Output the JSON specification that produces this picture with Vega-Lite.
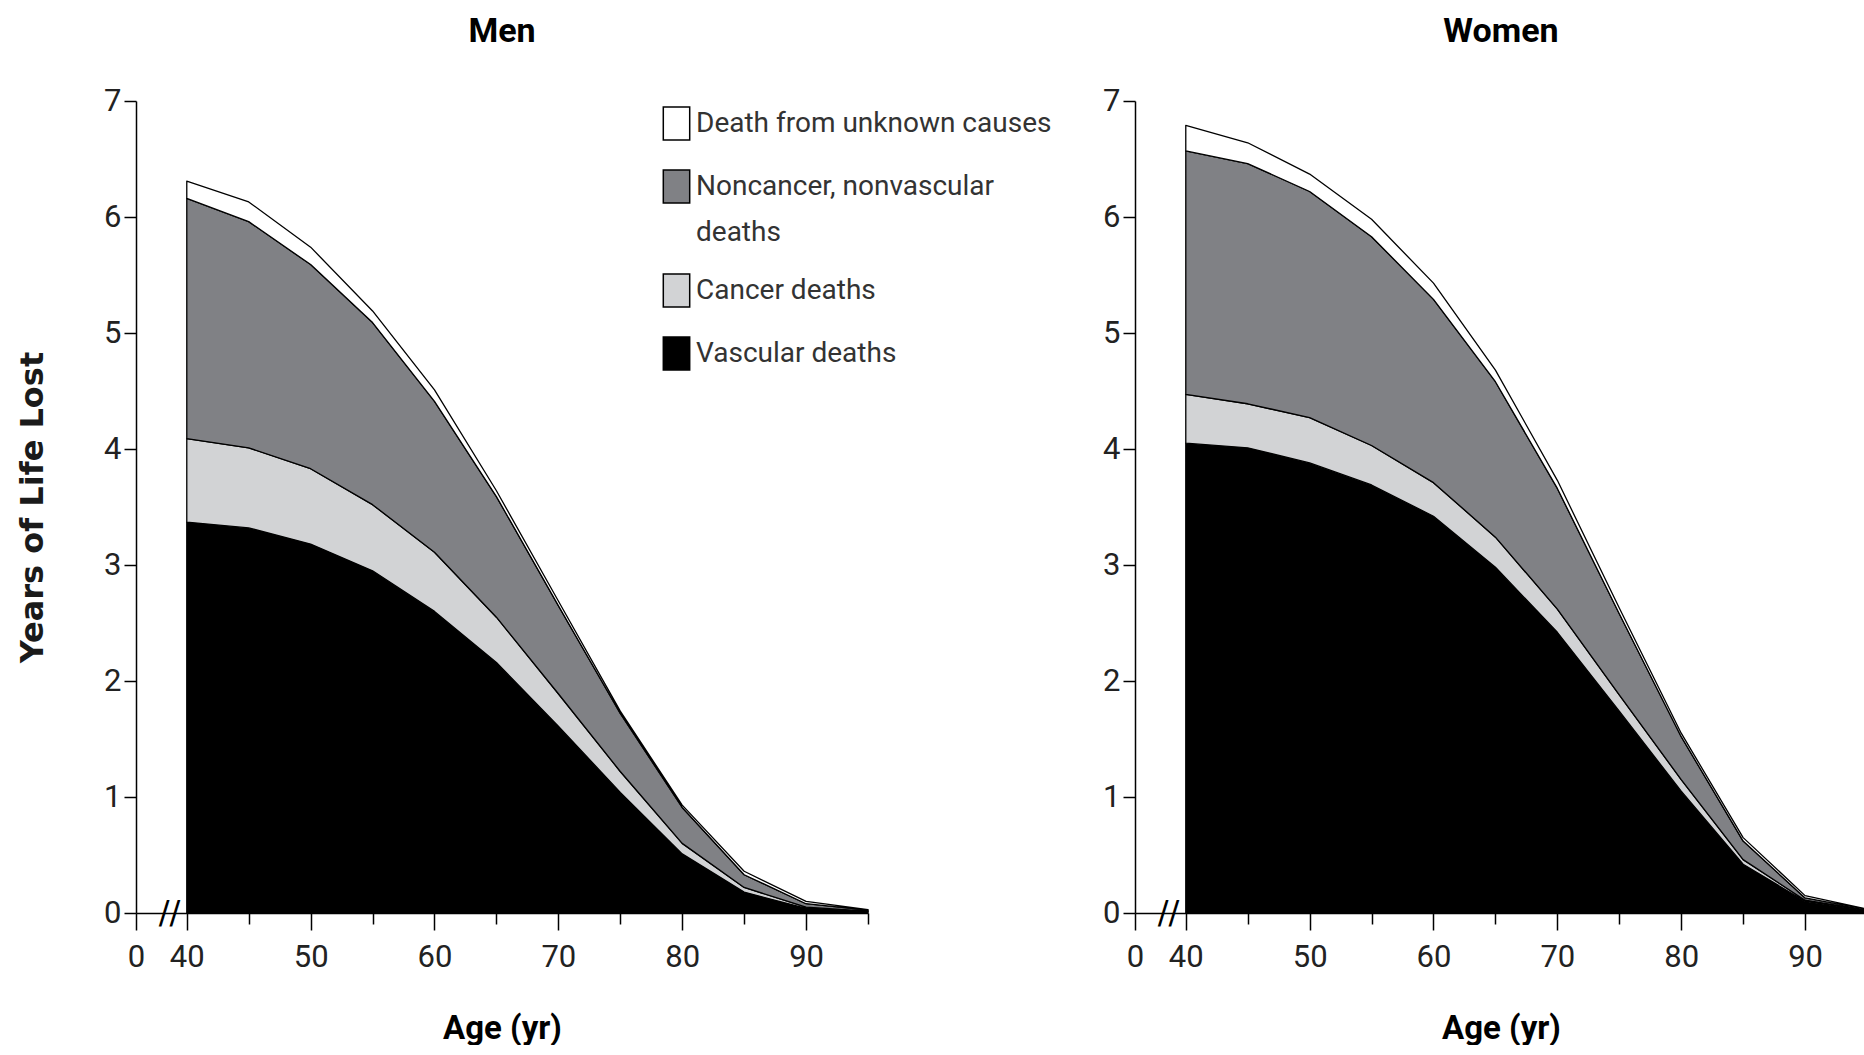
{
  "$schema": "https://vega.github.io/schema/vega-lite/v6.json",
  "background": "white",
  "padding": {"left": 16, "top": 15, "right": 0, "bottom": 0},
  "config": {
    "view": {"stroke": null},
    "font": "Roboto, sans-serif",
    "axis": {"domainColor": "black", "domainWidth": 1.5, "tickColor": "black", "tickWidth": 1.5, "labelColor": "#222222", "labelFont": "Roboto, sans-serif", "labelFontSize": 31, "grid": false},
    "style": {"guide-label": {"lineHeight": 46}}
  },
  "spacing": 267,
  "bounds": "flush",
  "resolve": {"legend": {"color": "independent"}},
  "datasets": {
    "causes": [
      {"cause": "Vascular deaths", "k": 1},
      {"cause": "Cancer deaths", "k": 2},
      {"cause": "Noncancer, nonvascular deaths", "k": 3},
      {"cause": "Death from unknown causes", "k": 4}
    ],
    "d": [
      {"sex": "Men", "age": 40, "cause": "Vascular deaths", "years": 3.37},
      {"sex": "Men", "age": 40, "cause": "Cancer deaths", "years": 0.72},
      {"sex": "Men", "age": 40, "cause": "Noncancer, nonvascular deaths", "years": 2.07},
      {"sex": "Men", "age": 40, "cause": "Death from unknown causes", "years": 0.15},
      {"sex": "Men", "age": 45, "cause": "Vascular deaths", "years": 3.32},
      {"sex": "Men", "age": 45, "cause": "Cancer deaths", "years": 0.69},
      {"sex": "Men", "age": 45, "cause": "Noncancer, nonvascular deaths", "years": 1.95},
      {"sex": "Men", "age": 45, "cause": "Death from unknown causes", "years": 0.17},
      {"sex": "Men", "age": 50, "cause": "Vascular deaths", "years": 3.18},
      {"sex": "Men", "age": 50, "cause": "Cancer deaths", "years": 0.65},
      {"sex": "Men", "age": 50, "cause": "Noncancer, nonvascular deaths", "years": 1.76},
      {"sex": "Men", "age": 50, "cause": "Death from unknown causes", "years": 0.15},
      {"sex": "Men", "age": 55, "cause": "Vascular deaths", "years": 2.95},
      {"sex": "Men", "age": 55, "cause": "Cancer deaths", "years": 0.57},
      {"sex": "Men", "age": 55, "cause": "Noncancer, nonvascular deaths", "years": 1.57},
      {"sex": "Men", "age": 55, "cause": "Death from unknown causes", "years": 0.10},
      {"sex": "Men", "age": 60, "cause": "Vascular deaths", "years": 2.60},
      {"sex": "Men", "age": 60, "cause": "Cancer deaths", "years": 0.51},
      {"sex": "Men", "age": 60, "cause": "Noncancer, nonvascular deaths", "years": 1.30},
      {"sex": "Men", "age": 60, "cause": "Death from unknown causes", "years": 0.10},
      {"sex": "Men", "age": 65, "cause": "Vascular deaths", "years": 2.16},
      {"sex": "Men", "age": 65, "cause": "Cancer deaths", "years": 0.39},
      {"sex": "Men", "age": 65, "cause": "Noncancer, nonvascular deaths", "years": 1.04},
      {"sex": "Men", "age": 65, "cause": "Death from unknown causes", "years": 0.05},
      {"sex": "Men", "age": 70, "cause": "Vascular deaths", "years": 1.61},
      {"sex": "Men", "age": 70, "cause": "Cancer deaths", "years": 0.28},
      {"sex": "Men", "age": 70, "cause": "Noncancer, nonvascular deaths", "years": 0.76},
      {"sex": "Men", "age": 70, "cause": "Death from unknown causes", "years": 0.04},
      {"sex": "Men", "age": 75, "cause": "Vascular deaths", "years": 1.04},
      {"sex": "Men", "age": 75, "cause": "Cancer deaths", "years": 0.18},
      {"sex": "Men", "age": 75, "cause": "Noncancer, nonvascular deaths", "years": 0.50},
      {"sex": "Men", "age": 75, "cause": "Death from unknown causes", "years": 0.02},
      {"sex": "Men", "age": 80, "cause": "Vascular deaths", "years": 0.51},
      {"sex": "Men", "age": 80, "cause": "Cancer deaths", "years": 0.09},
      {"sex": "Men", "age": 80, "cause": "Noncancer, nonvascular deaths", "years": 0.31},
      {"sex": "Men", "age": 80, "cause": "Death from unknown causes", "years": 0.02},
      {"sex": "Men", "age": 85, "cause": "Vascular deaths", "years": 0.18},
      {"sex": "Men", "age": 85, "cause": "Cancer deaths", "years": 0.04},
      {"sex": "Men", "age": 85, "cause": "Noncancer, nonvascular deaths", "years": 0.11},
      {"sex": "Men", "age": 85, "cause": "Death from unknown causes", "years": 0.03},
      {"sex": "Men", "age": 90, "cause": "Vascular deaths", "years": 0.04},
      {"sex": "Men", "age": 90, "cause": "Cancer deaths", "years": 0.01},
      {"sex": "Men", "age": 90, "cause": "Noncancer, nonvascular deaths", "years": 0.03},
      {"sex": "Men", "age": 90, "cause": "Death from unknown causes", "years": 0.02},
      {"sex": "Men", "age": 95, "cause": "Vascular deaths", "years": 0.01},
      {"sex": "Men", "age": 95, "cause": "Cancer deaths", "years": 0.005},
      {"sex": "Men", "age": 95, "cause": "Noncancer, nonvascular deaths", "years": 0.01},
      {"sex": "Men", "age": 95, "cause": "Death from unknown causes", "years": 0.005},
      {"sex": "Women", "age": 40, "cause": "Vascular deaths", "years": 4.05},
      {"sex": "Women", "age": 40, "cause": "Cancer deaths", "years": 0.42},
      {"sex": "Women", "age": 40, "cause": "Noncancer, nonvascular deaths", "years": 2.10},
      {"sex": "Women", "age": 40, "cause": "Death from unknown causes", "years": 0.22},
      {"sex": "Women", "age": 45, "cause": "Vascular deaths", "years": 4.01},
      {"sex": "Women", "age": 45, "cause": "Cancer deaths", "years": 0.38},
      {"sex": "Women", "age": 45, "cause": "Noncancer, nonvascular deaths", "years": 2.07},
      {"sex": "Women", "age": 45, "cause": "Death from unknown causes", "years": 0.18},
      {"sex": "Women", "age": 50, "cause": "Vascular deaths", "years": 3.88},
      {"sex": "Women", "age": 50, "cause": "Cancer deaths", "years": 0.39},
      {"sex": "Women", "age": 50, "cause": "Noncancer, nonvascular deaths", "years": 1.95},
      {"sex": "Women", "age": 50, "cause": "Death from unknown causes", "years": 0.15},
      {"sex": "Women", "age": 55, "cause": "Vascular deaths", "years": 3.69},
      {"sex": "Women", "age": 55, "cause": "Cancer deaths", "years": 0.34},
      {"sex": "Women", "age": 55, "cause": "Noncancer, nonvascular deaths", "years": 1.80},
      {"sex": "Women", "age": 55, "cause": "Death from unknown causes", "years": 0.15},
      {"sex": "Women", "age": 60, "cause": "Vascular deaths", "years": 3.42},
      {"sex": "Women", "age": 60, "cause": "Cancer deaths", "years": 0.29},
      {"sex": "Women", "age": 60, "cause": "Noncancer, nonvascular deaths", "years": 1.58},
      {"sex": "Women", "age": 60, "cause": "Death from unknown causes", "years": 0.14},
      {"sex": "Women", "age": 65, "cause": "Vascular deaths", "years": 2.98},
      {"sex": "Women", "age": 65, "cause": "Cancer deaths", "years": 0.26},
      {"sex": "Women", "age": 65, "cause": "Noncancer, nonvascular deaths", "years": 1.34},
      {"sex": "Women", "age": 65, "cause": "Death from unknown causes", "years": 0.10},
      {"sex": "Women", "age": 70, "cause": "Vascular deaths", "years": 2.42},
      {"sex": "Women", "age": 70, "cause": "Cancer deaths", "years": 0.20},
      {"sex": "Women", "age": 70, "cause": "Noncancer, nonvascular deaths", "years": 1.04},
      {"sex": "Women", "age": 70, "cause": "Death from unknown causes", "years": 0.07},
      {"sex": "Women", "age": 75, "cause": "Vascular deaths", "years": 1.74},
      {"sex": "Women", "age": 75, "cause": "Cancer deaths", "years": 0.14},
      {"sex": "Women", "age": 75, "cause": "Noncancer, nonvascular deaths", "years": 0.70},
      {"sex": "Women", "age": 75, "cause": "Death from unknown causes", "years": 0.05},
      {"sex": "Women", "age": 80, "cause": "Vascular deaths", "years": 1.05},
      {"sex": "Women", "age": 80, "cause": "Cancer deaths", "years": 0.10},
      {"sex": "Women", "age": 80, "cause": "Noncancer, nonvascular deaths", "years": 0.37},
      {"sex": "Women", "age": 80, "cause": "Death from unknown causes", "years": 0.03},
      {"sex": "Women", "age": 85, "cause": "Vascular deaths", "years": 0.42},
      {"sex": "Women", "age": 85, "cause": "Cancer deaths", "years": 0.04},
      {"sex": "Women", "age": 85, "cause": "Noncancer, nonvascular deaths", "years": 0.16},
      {"sex": "Women", "age": 85, "cause": "Death from unknown causes", "years": 0.03},
      {"sex": "Women", "age": 90, "cause": "Vascular deaths", "years": 0.10},
      {"sex": "Women", "age": 90, "cause": "Cancer deaths", "years": 0.01},
      {"sex": "Women", "age": 90, "cause": "Noncancer, nonvascular deaths", "years": 0.02},
      {"sex": "Women", "age": 90, "cause": "Death from unknown causes", "years": 0.02},
      {"sex": "Women", "age": 95, "cause": "Vascular deaths", "years": 0.02},
      {"sex": "Women", "age": 95, "cause": "Cancer deaths", "years": 0.005},
      {"sex": "Women", "age": 95, "cause": "Noncancer, nonvascular deaths", "years": 0.005},
      {"sex": "Women", "age": 95, "cause": "Death from unknown causes", "years": 0.005}
    ]
  },
  "hconcat": [
    {
      "width": 732,
      "height": 812,
      "title": {"text": "Men", "font": "Roboto, sans-serif", "fontSize": 34, "fontWeight": "bold", "color": "black", "anchor": "middle", "offset": 36},
      "layer": [
        {
          "data": {"name": "d"},
          "transform": [
            {"filter": "datum.sex == 'Men'"},
            {"lookup": "cause", "from": {"data": {"name": "causes"}, "key": "cause", "fields": ["k"]}}
          ],
          "mark": {"type": "area", "stroke": "black", "strokeWidth": 1.3, "opacity": 1, "strokeJoin": "round"},
          "encoding": {
            "x": {"field": "age", "type": "quantitative", "scale": {"domain": [35.9, 95], "nice": false, "zero": false},
              "axis": {"values": [35.9, 40, 45, 50, 55, 60, 65, 70, 75, 80, 85, 90, 95], "labelExpr": "datum.value < 39 ? '0' : (datum.value % 10 == 0 ? datum.label : '')", "tickSize": {"condition": {"test": "datum.value % 10 == 0 || datum.value < 39", "value": 17}, "value": 11}, "labelPadding": 12, "labelOverlap": false, "labelFlush": false, "title": "Age (yr)", "titleFont": "Roboto, sans-serif", "titleFontSize": 33, "titleFontWeight": "bold", "titleColor": "black", "titlePadding": 40}},
            "y": {"field": "years", "type": "quantitative", "stack": "zero", "scale": {"domain": [0, 7], "nice": false},
              "axis": {"values": [0, 1, 2, 3, 4, 5, 6, 7], "format": "d", "tickSize": 12, "labelPadding": 3, "title": "Years of Life Lost", "titleFont": "DejaVu Sans, sans-serif", "titleFontWeight": "bold", "titleFontSize": 32, "titleColor": "#1a1a1a", "titlePadding": 54}},
            "order": {"field": "k", "type": "quantitative"},
            "color": {"field": "cause", "type": "nominal",
              "scale": {"domain": ["Vascular deaths", "Cancer deaths", "Noncancer, nonvascular deaths", "Death from unknown causes"], "range": ["#000000", "#d2d3d5", "#808185", "#ffffff"]},
              "legend": {"orient": "none", "legendX": 523, "legendY": 5, "title": null,
                "values": ["Death from unknown causes", "Noncancer, nonvascular deaths", "Cancer deaths", "Vascular deaths"],
                "labelExpr": "datum.label == 'Noncancer, nonvascular deaths' ? ['Noncancer, nonvascular', 'deaths'] : datum.label",
                "labelFont": "Roboto, sans-serif", "labelFontSize": 28, "labelColor": "#333333", "labelLimit": 0, "labelOffset": 2,
                "symbolType": "M-0.8,-1L0.8,-1L0.8,1L-0.8,1Z", "symbolSize": 1089, "symbolStrokeColor": "black", "symbolStrokeWidth": 1.5, "symbolOpacity": 1,
                "rowPadding": 24}}
          }
        },
        {
          "data": {"values": [{}]},
          "mark": {"type": "text", "text": "//", "font": "DejaVu Sans, sans-serif", "fontSize": 32, "color": "black"},
          "encoding": {"x": {"datum": 38.6, "type": "quantitative"}, "y": {"datum": 0, "type": "quantitative"}}
        }
      ]
    },
    {
      "width": 732,
      "height": 812,
      "title": {"text": "Women", "font": "Roboto, sans-serif", "fontSize": 34, "fontWeight": "bold", "color": "black", "anchor": "middle", "offset": 36},
      "layer": [
        {
          "data": {"name": "d"},
          "transform": [
            {"filter": "datum.sex == 'Women'"},
            {"lookup": "cause", "from": {"data": {"name": "causes"}, "key": "cause", "fields": ["k"]}}
          ],
          "mark": {"type": "area", "stroke": "black", "strokeWidth": 1.3, "opacity": 1, "strokeJoin": "round"},
          "encoding": {
            "x": {"field": "age", "type": "quantitative", "scale": {"domain": [35.9, 95], "nice": false, "zero": false},
              "axis": {"values": [35.9, 40, 45, 50, 55, 60, 65, 70, 75, 80, 85, 90, 95], "labelExpr": "datum.value < 39 ? '0' : (datum.value % 10 == 0 ? datum.label : '')", "tickSize": {"condition": {"test": "datum.value % 10 == 0 || datum.value < 39", "value": 17}, "value": 11}, "labelPadding": 12, "labelOverlap": false, "labelFlush": false, "title": "Age (yr)", "titleFont": "Roboto, sans-serif", "titleFontSize": 33, "titleFontWeight": "bold", "titleColor": "black", "titlePadding": 40}},
            "y": {"field": "years", "type": "quantitative", "stack": "zero", "scale": {"domain": [0, 7], "nice": false},
              "axis": {"values": [0, 1, 2, 3, 4, 5, 6, 7], "format": "d", "tickSize": 12, "labelPadding": 3, "title": null}},
            "order": {"field": "k", "type": "quantitative"},
            "color": {"field": "cause", "type": "nominal",
              "scale": {"domain": ["Vascular deaths", "Cancer deaths", "Noncancer, nonvascular deaths", "Death from unknown causes"], "range": ["#000000", "#d2d3d5", "#808185", "#ffffff"]},
              "legend": null}
          }
        },
        {
          "data": {"values": [{}]},
          "mark": {"type": "text", "text": "//", "font": "DejaVu Sans, sans-serif", "fontSize": 32, "color": "black"},
          "encoding": {"x": {"datum": 38.6, "type": "quantitative"}, "y": {"datum": 0, "type": "quantitative"}}
        }
      ]
    }
  ]
}
